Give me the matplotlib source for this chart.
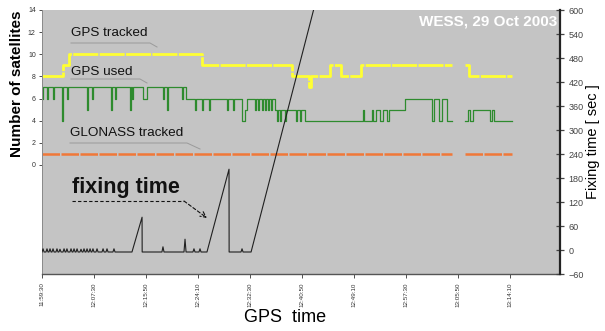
import numpy as np
import matplotlib
matplotlib.use("Agg")
import matplotlib.pyplot as plt

plt.rcParams['font.family'] = ['Liberation Sans', 'DejaVu Sans']

# time axis in seconds from the first tick
tick_labels = ["11:59:30", "12:07:30", "12:15:50", "12:24:10", "12:32:30",
               "12:40:50", "12:49:10", "12:57:30", "13:05:50", "13:14:10"]
tick_step = 500

# GPS tracked (step changes)
trk_t = [0, 202, 260, 1538, 2404, 2567, 2587, 2769, 2875, 3067, 3942, 4067, 4106, 4519]
trk_v = [8, 9, 10, 9, 8, 7, 8, 9, 8, 9, np.nan, 9, 8, 8]

# GPS used (step changes)
used_t = [0, 10, 48, 58, 106, 115, 192, 202, 240, 250, 433, 442, 481, 490, 663, 673,
          702, 712, 846, 856, 865, 875, 971, 1010, 1163, 1173, 1202, 1212, 1346, 1356,
          1385, 1471, 1481, 1538, 1548, 1606, 1616, 1779, 1789, 1836, 1846, 1923, 1952,
          1970, 2048, 2058, 2077, 2087, 2115, 2125, 2144, 2154, 2173, 2183, 2202, 2212,
          2240, 2260, 2270, 2288, 2298, 2336, 2346, 2442, 2452, 2481, 2490, 2529, 3086,
          3096, 3173, 3183, 3211, 3250, 3279, 3317, 3336, 3490, 3750, 3769, 3817, 3846,
          3894, 3942, 4067, 4096, 4115, 4144, 4308, 4327, 4346, 4519]
used_v = [6, 7, 6, 7, 6, 7, 4, 7, 6, 7, 5, 7, 6, 7, 5, 7,
          6, 7, 5, 7, 6, 7, 6, 7, 6, 7, 5, 7, 6, 7,
          6, 5, 6, 5, 6, 5, 6, 5, 6, 5, 6, 4, 5,
          6, 5, 6, 5, 6, 5, 6, 5, 6, 5, 6, 5, 6,
          5, 4, 5, 4, 5, 4, 5, 4, 5, 4, 5, 4, 5,
          4, 5, 4, 5, 4, 5, 4, 5, 6, 4, 6, 4, 6,
          4, np.nan, 4, 5, 4, 5, 4, 5, 4, 4]

# GLONASS tracked
glo_t = [0, 3942, 4067, 4519]
glo_v = [1, np.nan, 1, 1]

# fixing time [s]: main shape + small blips on the baseline
fix_t = [0, 865, 962, 963, 1586, 1798, 1799, 2010, 2700]
fix_v = [-5, -5, 82, -5, -5, 202, -5, -5, 690]
blip_t = [10, 48, 77, 106, 144, 173, 212, 240, 279, 308, 337, 375, 404, 433, 462,
          490, 529, 587, 625, 692, 1163, 1375, 1461, 1519, 1923]
blip_v = [3, 3, 3, 3, 3, 2, 3, 3, 3, 3, 3, 2, 3, 3, 3,
          3, 3, 3, 3, 3, 8, 27, 3, 3, 3]

pts = list(zip(fix_t, fix_v))
for t, v in zip(blip_t, blip_v):
    pts += [(t - 10, -5), (t, v), (t + 10, -5)]
pts.sort()
fx = [p[0] for p in pts]
fy = [p[1] for p in pts]

W, H = 605, 331
fig = plt.figure(figsize=(W / 100, H / 100), dpi=100)
ax = fig.add_axes([42 / W, 1 - 274 / H, (560 - 42) / W, (274 - 10) / H])
ax.set_facecolor('#c4c4c4')
ax2 = ax.twinx()

ax.plot(trk_t, trk_v, drawstyle='steps-post', color='#ffff33', lw=2.0,
        dashes=(9, 0.5))
ax.plot(used_t, used_v, drawstyle='steps-post', color='#2e8b2e', lw=0.9)
ax.plot(glo_t, glo_v, drawstyle='steps-post', color='#f07838', lw=1.8,
        dashes=(7, 0.6))
ax2.plot(fx, fy, color='#202020', lw=0.8)

ax.set_xlim(0, 4980)
ax.set_ylim(-9.85, 14)
ax2.set_ylim(-60, 600)

ax.set_xticks(np.arange(len(tick_labels)) * tick_step)
ax.set_xticklabels(tick_labels, rotation=90, fontsize=4.5, color='#333333')
ax.set_yticks(range(0, 15, 2))
ax.tick_params(axis='y', labelsize=5, length=2.5, width=0.6, colors='#333333', pad=2)
ax.tick_params(axis='x', length=3, width=0.6, colors='#333333', pad=3)
ax2.set_yticks(range(-60, 601, 60))
ax2.tick_params(axis='y', labelsize=6.5, direction='inout', length=6, width=0.9,
                colors='#444444', pad=3)

for s in ['top', 'right']:
    ax.spines[s].set_visible(False)
ax.spines['left'].set_color('#8a8a8a')
ax.spines['left'].set_linewidth(0.7)
ax.spines['bottom'].set_color('#555555')
ax.spines['bottom'].set_linewidth(1.0)
for s in ['top', 'left', 'bottom']:
    ax2.spines[s].set_visible(False)
ax2.spines['right'].set_color('#222222')
ax2.spines['right'].set_linewidth(1.6)


def fp(x, y):
    return x / W, 1 - y / H


def leader(xs, ys, **kw):
    px = [x / W for x in xs]
    py = [1 - y / H for y in ys]
    fig.add_artist(plt.Line2D(px, py, **kw))


fig.text(*fp(71, 33), "GPS tracked", fontsize=9.7, va='center', color='#111111')
leader([71, 150, 157], [43, 43, 47], color='#9a9a9a', lw=0.7)
fig.text(*fp(71, 72), "GPS used", fontsize=9.7, va='center', color='#111111')
leader([71, 140, 147], [79, 79, 83], color='#9a9a9a', lw=0.7)
fig.text(*fp(70, 133), "GLONASS tracked", fontsize=9.7, va='center', color='#111111')
leader([70, 187, 200], [143, 143, 149], color='#9a9a9a', lw=0.7)

fig.text(*fp(72, 187), "fixing time", fontsize=15.5, fontweight='bold',
         va='center', color='#111111')
leader([72, 184], [201, 201], color='#111111', lw=0.8, ls=(0, (3, 2)))
ax.annotate("", xy=fp(207, 218), xycoords='figure fraction',
            xytext=fp(184, 201), textcoords='figure fraction',
            arrowprops=dict(arrowstyle='->', color='#111111', lw=0.8,
                            ls=(0, (3, 2)), shrinkA=0, shrinkB=0))

fig.text(*fp(557, 22), "WESS, 29 Oct 2003", fontsize=11, fontweight='bold',
         color='white', ha='right', va='center')

fig.text(*fp(17, 84), "Number of satellites", fontsize=11, fontweight='bold',
         rotation=90, ha='center', va='center')
fig.text(*fp(593, 142), "Fixing time [ sec ]", fontsize=10.5,
         rotation=90, ha='center', va='center')
fig.text(*fp(285, 318), "GPS  time", fontsize=13, ha='center', va='center')

fig.savefig("out.png", dpi=100)
